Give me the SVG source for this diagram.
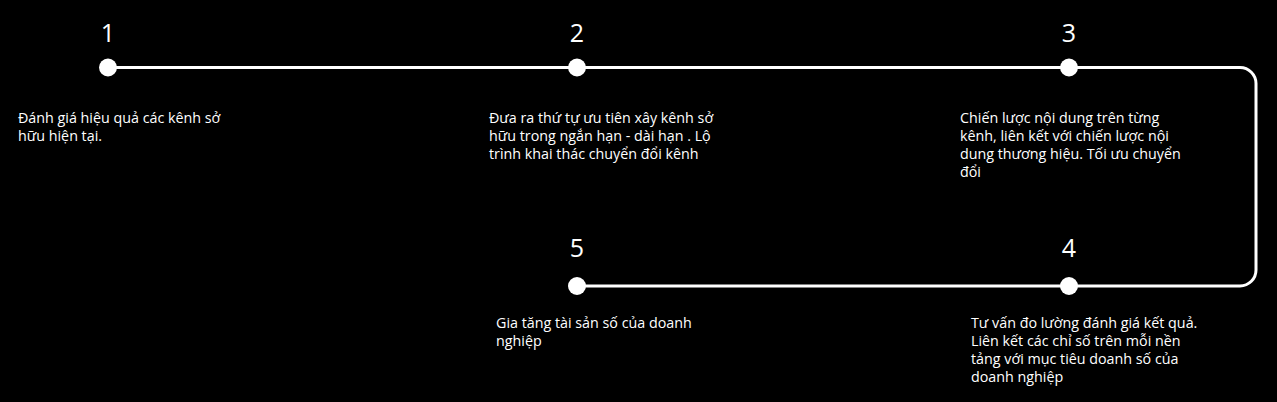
<svg xmlns="http://www.w3.org/2000/svg" width="1277" height="402" viewBox="0 0 1277 402">
<style>
.num{font-family:"Open Sans","Noto Sans","DejaVu Sans",sans-serif;font-size:25px;fill:#fff;text-anchor:middle}
.txt{font-family:"Open Sans","Noto Sans","DejaVu Sans",sans-serif;font-size:14.3px;fill:#fff}
.dot{fill:#fff}
.conn{fill:none;stroke:#fff;stroke-width:3}
</style>
<rect x="0" y="0" width="1277" height="402" fill="#000"/>
<g id="connectors">
<path class="conn" d="M108,67.5 H1240 A16,16 0 0 1 1256,83.5 V270 A16,16 0 0 1 1240,286 H576"/>
</g>
<g id="node1">
<circle class="dot" cx="108" cy="67.5" r="9"/>
<text class="num" x="108" y="42">1</text>
<text class="txt" x="18" y="123">Đánh giá hiệu quả các kênh sở</text>
<text class="txt" x="18" y="141">hữu hiện tại.</text>
</g>
<g id="node2">
<circle class="dot" cx="577" cy="67.5" r="9"/>
<text class="num" x="577" y="42">2</text>
<text class="txt" x="489" y="123">Đưa ra thứ tự ưu tiên xây kênh sở</text>
<text class="txt" x="489" y="141">hữu trong ngắn hạn - dài hạn . Lộ</text>
<text class="txt" x="489" y="159">trình khai thác chuyển đổi kênh</text>
</g>
<g id="node3">
<circle class="dot" cx="1069" cy="67.5" r="9"/>
<text class="num" x="1069" y="42">3</text>
<text class="txt" x="960" y="123">Chiến lược nội dung trên từng</text>
<text class="txt" x="960" y="141">kênh, liên kết với chiến lược nội</text>
<text class="txt" x="960" y="159">dung thương hiệu. Tối ưu chuyển</text>
<text class="txt" x="960" y="177">đổi</text>
</g>
<g id="node4">
<circle class="dot" cx="1069" cy="286" r="9"/>
<text class="num" x="1069" y="257">4</text>
<text class="txt" x="971" y="328">Tư vấn đo lường đánh giá kết quả.</text>
<text class="txt" x="971" y="346">Liên kết các chỉ số trên mỗi nền</text>
<text class="txt" x="971" y="364">tảng với mục tiêu doanh số của</text>
<text class="txt" x="971" y="382">doanh nghiệp</text>
</g>
<g id="node5">
<circle class="dot" cx="577" cy="286" r="9"/>
<text class="num" x="577" y="257">5</text>
<text class="txt" x="496" y="328">Gia tăng tài sản số của doanh</text>
<text class="txt" x="496" y="346">nghiệp</text>
</g>
</svg>
